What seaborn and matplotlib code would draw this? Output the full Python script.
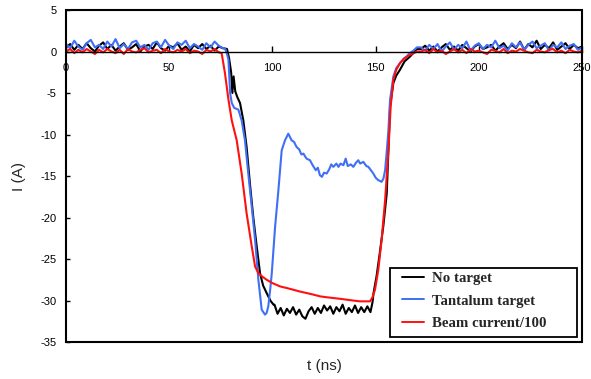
import numpy as np
import pandas as pd
import matplotlib
matplotlib.use("Agg")
import matplotlib.pyplot as plt
import seaborn as sns
from matplotlib.patches import Rectangle
from matplotlib.lines import Line2D

# ---------------- data ----------------
series_names = ["No target", "Tantalum target", "Beam current/100"]
series_colors = ["#000000", "#3f6ff5", "#ff1010"]

t_pre = np.arange(0, 77, 2)        # 0..76 ns
t_post = np.arange(172, 251, 2)    # 172..250 ns

black_pre = [0.5, 0.9, 0.2, 0.8, 0.3, 1.0, 0.4, 0.0, 0.7, 1.1, 0.3, 0.8, 0.1, 0.6, 1.0, 0.2, 0.5, 0.9, 0.0, 0.6,
             0.8, 0.3, 1.1, 0.4, 0.1, 0.7, 0.5, 1.0, 0.2, 0.6, 0.0, 0.8, 0.4, 0.9, 0.3, 0.7, 0.1, 0.6, 0.4]
black_t = [78, 79, 80, 80.6, 81.2, 82, 83, 84.3, 85.9, 87.5, 89.1, 90.7, 92.4, 94, 95.5, 97.2, 99, 100.5,
           101, 102.5, 104, 105.5, 107, 108.5, 110, 111.5, 113, 114.5, 116, 117.5, 119, 120.5, 122, 123.5,
           125, 126.5, 128, 129.5, 131, 132.5, 134, 135.5, 137, 138.5, 140, 141.5, 143, 144.5, 146, 147.5,
           148.5, 149, 150.5, 152, 153.7, 155.4, 156.2, 157, 158.6, 160, 161.8, 164, 166.7, 168.5, 170]
black_i = [0.3, -0.8, -2.5, -5.0, -3.0, -4.8, -5.5, -6.2, -8.3, -11.5, -15.9, -19.9, -23.5, -26.7, -28.2, -29.1, -30.0, -30.5,
           -30.5, -31.6, -30.9, -31.8, -31.0, -31.5, -30.8, -31.7, -31.1, -31.9, -32.2, -31.3, -30.8, -31.6, -30.9, -31.5,
           -30.6, -31.2, -30.7, -31.6, -30.8, -31.3, -30.5, -31.6, -30.9, -31.4, -30.6, -31.5, -30.8, -31.4, -30.7, -31.4,
           -30.2, -29.1, -27.0, -24.3, -21.1, -17.1, -11.9, -6.6, -3.8, -2.9, -2.2, -1.2, -0.6, -0.1, 0.3]
black_post = [0.3, 0.7, 0.1, 0.6, 0.0, 0.5, 0.9, 0.2, 0.6, 0.1, 0.8, 0.4, 0.0, 0.6, 0.9, 0.3, 0.5, 0.8, 0.1, 0.6,
              1.0, 0.3, 0.8, 0.4, 1.2, 0.2, 0.9, 0.5, 1.3, 0.3, 0.8, 0.4, 1.1, 0.2, 0.6, 1.0, 0.3, 0.8, 0.4, 0.6]

blue_pre = [0.9, 0.4, 1.3, 0.6, 0.2, 1.0, 1.4, 0.5, 0.8, 0.3, 1.2, 0.6, 1.5, 0.4, 0.9, 0.3, 1.1, 1.3, 0.5, 0.8,
            0.2, 1.0, 1.2, 0.5, 1.4, 0.7, 0.3, 1.1, 0.8, 1.3, 0.4, 0.9, 0.6, 0.2, 1.0, 0.5, 1.2, 0.7, 0.4]
blue_t = [77, 78, 78.7, 79.5, 80.3, 81.5, 83.5, 85.1, 86.7, 88.3, 90, 91.6, 93.2, 94.8, 96.4, 97.2, 98, 99,
          99.7, 101.3, 102.9, 104.5, 106.1, 107.7, 108.5, 109.3, 110.5, 111.7, 113, 114, 115, 116.5, 118.2,
          119.5, 121, 122, 123, 124, 125, 126.3, 127.5, 128.5, 129.5, 131, 132, 133, 134.4, 135.5, 136.5,
          138, 139.2, 140.5, 141.6, 142.5, 144.1, 145.5, 146.5, 148, 148.9, 150, 151.3, 152.9, 153.8, 154.6,
          155.4, 156.2, 157, 158.6, 160, 161.8, 163.5, 165, 166.5, 168.3, 170]
blue_i = [0.4, -0.3, -1.0, -5.0, -6.2, -6.8, -7.0, -8.3, -10.7, -14.7, -18.7, -22.7, -27.5, -31.1, -31.7, -31.5, -30.7, -28.5,
          -26.7, -21.1, -16.7, -11.9, -10.7, -9.9, -10.3, -10.7, -10.9, -11.5, -11.8, -12.4, -12.3, -12.9, -13.1,
          -13.7, -14.3, -14.0, -14.9, -15.1, -14.6, -14.7, -14.2, -13.6, -13.9, -13.5, -13.9, -13.5, -13.7, -12.9, -13.8,
          -13.6, -13.9, -13.4, -13.1, -13.5, -13.3, -13.8, -13.9, -14.4, -14.7, -15.2, -15.5, -15.7, -15.3, -14.3,
          -12.0, -9.5, -5.8, -3.0, -2.0, -1.4, -0.9, -0.6, -0.2, 0.1, 0.5]
blue_post = [0.5, 0.1, 0.8, 0.3, 0.9, 0.0, 0.6, 1.1, 0.2, 0.8, 0.4, 1.2, 0.1, 0.7, 1.0, 0.3, 0.8, 0.5, 1.3, 0.4,
             0.7, 0.1, 1.0, 0.5, 1.1, 0.2, 0.8, 1.2, 0.4, 0.7, 1.0, 0.1, 0.8, 0.5, 1.1, 0.3, 0.7, 0.9, 0.2, 0.5]

red_pre = [0.0, 0.3, -0.2, 0.2, -0.1, 0.3, 0.0, -0.3, 0.2, -0.1, 0.3, 0.0, -0.2, 0.2, -0.3, 0.3, 0.0, -0.1, 0.2,
           0.4, -0.1, 0.1, 0.2, -0.2, 0.3, 0.0, -0.1, 0.2, 0.0, 0.3, -0.2, 0.1, 0.0, -0.3, 0.2, 0.0, 0.3, -0.1]
red_t = [75.4, 77, 78.7, 80.3, 82.7, 85.1, 87.5, 90, 91.6, 93.2, 95, 97.2, 100, 103.7, 107, 110.1, 113, 116.6,
         120, 123.1, 126, 129.5, 133, 136, 139, 142.4, 145, 147.3, 148.5, 149.7, 151.3, 152.9, 154.6, 156.2,
         157.3, 158.6, 160, 161.8, 164, 166.7, 168.5, 170]
red_i = [-0.2, -2.6, -5.8, -8.3, -10.7, -14.7, -19.5, -23.5, -25.9, -26.7, -27.1, -27.5, -27.9, -28.3, -28.5, -28.7,
         -28.9, -29.1, -29.3, -29.5, -29.6, -29.7, -29.8, -29.9, -30.0, -30.1, -30.1, -30.1, -29.6, -28.7, -26.3,
         -22.7, -17.9, -11.9, -6.6, -3.4, -2.2, -1.4, -0.8, -0.4, -0.2, 0.0]
red_post = [0.0, 0.2, -0.2, 0.3, -0.1, 0.1, -0.3, 0.0, 0.3, -0.1, 0.2, -0.2, 0.3, 0.0, 0.1, -0.1, -0.3, 0.2, 0.1, -0.1,
            0.3, -0.2, 0.1, 0.0, 0.3, 0.1, -0.1, -0.2, 0.2, 0.0, -0.1, 0.2, 0.3, -0.1, 0.1, -0.2, 0.2, 0.0, -0.1, 0.1]

x_ticks = [0, 50, 100, 150, 200, 250]
y_ticks = [5, 0, -5, -10, -15, -20, -25, -30, -35]
x_label = "t (ns)"
y_label = "I (A)"

# ---------------- build table ----------------
frames = []
parts = [
    (series_names[0], list(t_pre), black_pre, black_t, black_i, black_post),
    (series_names[1], list(t_pre), blue_pre, blue_t, blue_i, blue_post),
    (series_names[2], list(t_pre[:-1]), red_pre, red_t, red_i, red_post),
]
for name, tp, ip, tt, it, ipost in parts:
    t = list(tp) + list(tt) + list(t_post)
    v = list(ip) + list(it) + list(ipost)
    frames.append(pd.DataFrame({"t": t, "I": v, "series": name}))
df = pd.concat(frames, ignore_index=True)

# ---------------- plot ----------------
sns.set_theme(style="white")
plt.rcParams["font.family"] = ["Liberation Sans", "DejaVu Sans"]

fig = plt.figure(figsize=(5.91, 3.79), dpi=100)
ax = fig.add_axes([0.1117, 0.0976, 0.8731, 0.876])

sns.lineplot(data=df, x="t", y="I", hue="series", hue_order=series_names,
             palette=dict(zip(series_names, series_colors)), estimator=None, sort=False,
             linewidth=1.5, ax=ax, legend=False)

ax.set_xlim(0, 250)
ax.set_ylim(-35, 5)

# frame
for s in ["top", "left", "right"]:
    ax.spines[s].set_visible(False)
ax.spines["bottom"].set_position(("data", 0))
ax.spines["bottom"].set_linewidth(1.0)
ax.spines["bottom"].set_color("black")
ax.add_patch(Rectangle((0, 0), 1, 1, transform=ax.transAxes, fill=False,
                       edgecolor="black", linewidth=1.5, clip_on=False, zorder=5))

ax.set_xticks(x_ticks)
ax.set_xticklabels([str(v) for v in x_ticks])
ax.set_yticks(y_ticks)
ax.set_yticklabels([str(v) for v in y_ticks])
ax.tick_params(axis="x", direction="in", length=4, width=1, pad=8, labelsize=8, colors="black",
               bottom=True)
ax.tick_params(axis="y", direction="in", length=3, width=1, pad=7, labelsize=8, colors="black",
               left=True)

ax.set_xlabel(x_label, fontsize=11)
ax.xaxis.set_label_coords(0.5, -0.05)
ax.set_ylabel(y_label, fontsize=11, labelpad=10)

# legend: frame drawn separately, content placed inside it
ax.add_patch(Rectangle((0.628, 0.015), 0.362, 0.208, transform=ax.transAxes, facecolor="white",
                       edgecolor="black", linewidth=1.3, zorder=6, clip_on=False))
handles = [Line2D([0], [0], color=c, lw=1.4) for c in series_colors]
leg = ax.legend(handles, series_names, loc="upper left",
                bbox_to_anchor=(0.651, 0.212), borderaxespad=0,
                prop={"family": "Liberation Serif", "weight": "bold", "size": 10.7},
                handlelength=1.5, handletextpad=0.5, labelspacing=0.62, borderpad=0,
                frameon=False)
leg.set_zorder(7)

fig.savefig("out.png", dpi=100)
